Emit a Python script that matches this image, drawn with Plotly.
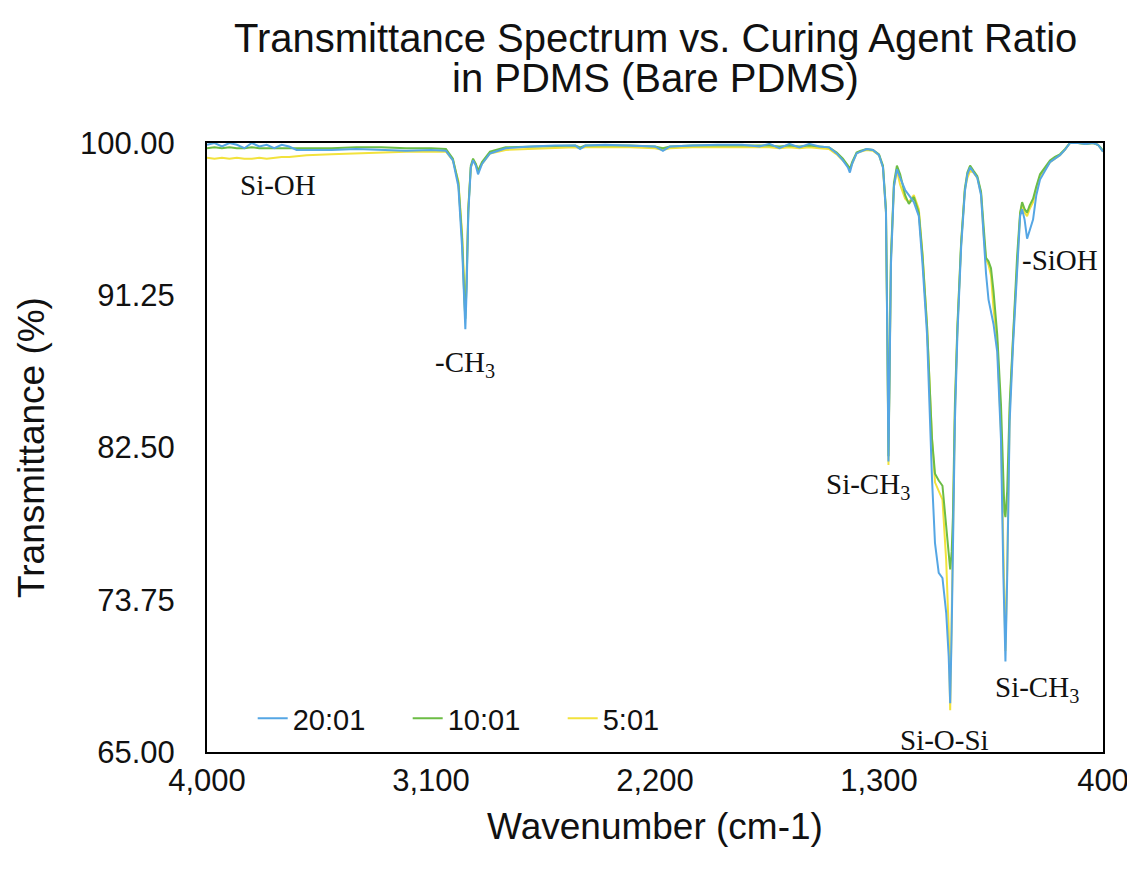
import plotly.graph_objects as go

# Wavenumber grid (cm-1), descending
wavenumber = [4000, 3970, 3940, 3910, 3880, 3850, 3820, 3790, 3760, 3730, 3700, 3670, 3640, 3600,
              3500, 3400, 3300, 3200, 3100, 3040, 3012, 2990, 2975, 2966, 2962, 2957, 2950, 2940,
              2931, 2920, 2911, 2895, 2863, 2800, 2700, 2600, 2520, 2501, 2480, 2400, 2300, 2200,
              2168, 2140, 2050, 1950, 1850, 1780, 1740, 1700, 1660, 1620, 1580, 1540, 1500, 1470,
              1445, 1425, 1417, 1408, 1390, 1376, 1350, 1324, 1300, 1284, 1272, 1266, 1262, 1258,
              1252, 1240, 1228, 1215, 1195, 1180, 1160, 1140, 1125, 1107, 1087, 1075, 1060, 1045,
              1030, 1020, 1014, 1008, 1003, 995, 985, 970, 955, 945, 934, 920, 905, 890, 880, 870,
              860, 850, 840, 825, 810, 800, 796, 792, 785, 775, 762, 745, 733, 725, 715, 705, 695,
              681, 668, 653, 633, 613, 593, 573, 553, 533, 500, 470, 440, 420, 410, 400]

t_20_01 = [99.9, 100.0, 99.8, 100.0, 99.9, 99.7, 100.0, 99.8, 99.9, 99.7, 99.9, 99.8, 99.6, 99.6,
           99.6, 99.65, 99.6, 99.55, 99.6, 99.55, 99.0, 97.5, 94.0, 90.5, 89.3, 91.5, 96.0, 98.6,
           99.0, 98.7, 98.2, 98.8, 99.4, 99.7, 99.8, 99.85, 99.85, 99.65, 99.85, 99.9, 99.85, 99.8,
           99.55, 99.8, 99.85, 99.9, 99.9, 99.8, 99.95, 99.7, 99.95, 99.75, 99.95, 99.8, 99.75, 99.4,
           99.0, 98.6, 98.3, 98.8, 99.4, 99.5, 99.65, 99.6, 99.3, 98.6, 96.0, 88.0, 81.7, 86.0,
           93.0, 97.5, 98.5, 98.0, 97.3, 97.0, 96.6, 95.8, 93.0, 89.0, 80.7, 77.0, 75.3, 75.0,
           73.0, 70.5, 67.8, 72.0, 76.0, 84.0, 89.0, 94.0, 97.2, 98.2, 98.6, 98.3, 98.0, 97.0, 94.5, 92.5,
           91.0, 90.2, 89.6, 88.0, 83.0, 75.0, 71.5, 70.2, 75.0, 84.0, 88.2, 93.0, 95.8, 96.2, 95.6, 94.5, 95.0,
           95.6, 97.0, 97.9, 98.4, 98.9, 99.1, 99.3, 99.6, 100.0, 100.0, 99.95, 100.0, 99.9, 99.7, 99.5]

t_10_01 = [99.7, 99.75, 99.7, 99.75, 99.7, 99.7, 99.75, 99.7, 99.7, 99.7, 99.7, 99.7, 99.7, 99.7,
           99.7, 99.75, 99.75, 99.7, 99.7, 99.65, 99.1, 97.7, 94.5, 91.0, 89.9, 92.0, 96.2, 98.7,
           99.1, 98.8, 98.4, 98.9, 99.5, 99.75, 99.8, 99.85, 99.85, 99.75, 99.85, 99.85, 99.85, 99.8,
           99.7, 99.8, 99.85, 99.85, 99.85, 99.85, 99.85, 99.8, 99.85, 99.8, 99.85, 99.8, 99.75, 99.45,
           99.1, 98.7, 98.5, 98.9, 99.45, 99.55, 99.65, 99.6, 99.35, 98.7, 96.2, 88.5, 82.0, 86.5,
           93.5, 97.7, 98.7, 98.2, 97.0, 96.5, 96.9, 96.0, 93.5, 89.5, 83.0, 81.0, 80.6, 80.3,
           78.0, 76.5, 75.5, 76.5, 78.5, 85.0, 89.5, 94.3, 97.4, 98.3, 98.7, 98.4, 98.1, 97.2, 95.0, 93.4,
           93.2, 92.8, 91.5, 89.0, 85.0, 80.0, 78.8, 78.5, 80.0, 85.0, 89.0, 93.5, 96.0, 96.6, 96.2, 96.0, 96.4,
           96.8, 97.5, 98.2, 98.6, 99.0, 99.2, 99.35, 99.65, 100.0, 100.0, 99.95, 100.0, 99.9, 99.75, 99.55]

t_5_01 = [99.15, 99.1, 99.15, 99.1, 99.15, 99.1, 99.1, 99.15, 99.1, 99.15, 99.2, 99.2, 99.25, 99.3,
          99.35, 99.4, 99.45, 99.5, 99.5, 99.5, 99.0, 97.8, 94.8, 91.3, 90.3, 92.3, 96.3, 98.6,
          99.0, 98.8, 98.4, 98.8, 99.4, 99.6, 99.65, 99.7, 99.75, 99.7, 99.75, 99.75, 99.75, 99.7,
          99.6, 99.7, 99.75, 99.75, 99.75, 99.75, 99.75, 99.7, 99.75, 99.7, 99.75, 99.7, 99.65, 99.35,
          99.0, 98.7, 98.5, 98.8, 99.4, 99.5, 99.6, 99.55, 99.3, 98.6, 96.0, 88.0, 81.5, 86.2,
          93.3, 97.5, 98.4, 97.6, 96.8, 96.6, 97.0, 96.2, 93.6, 89.5, 83.0, 80.5, 80.0, 79.5,
          76.0, 72.0, 67.4, 72.5, 76.5, 84.5, 89.3, 94.2, 97.3, 98.0, 98.4, 98.3, 98.0, 97.1, 94.8, 93.3,
          93.0, 92.4, 90.5, 88.5, 83.5, 75.5, 72.0, 70.8, 75.5, 84.5, 88.6, 93.3, 95.9, 96.5, 96.0, 95.8, 96.2,
          96.6, 97.4, 98.1, 98.5, 98.9, 99.1, 99.3, 99.6, 100.0, 100.0, 99.95, 100.0, 99.9, 99.7, 99.5]

series_names = ["20:01", "10:01", "5:01"]
series_values = [t_20_01, t_10_01, t_5_01]
series_colors = ["#55A6E4", "#6CBD45", "#F2E23C"]

x_ticks = [4000, 3100, 2200, 1300, 400]
y_ticks = [65.00, 73.75, 82.50, 91.25, 100.00]

title_lines = ["Transmittance Spectrum vs. Curing Agent Ratio", "in PDMS (Bare PDMS)"]

# Peak labels: (text, wavenumber, transmittance)
peak_labels = [
    ("Si-OH", 3715, 97.6),
    ("-CH<sub>3</sub>", 2963, 87.3),
    ("Si-CH<sub>3</sub>", 1344, 80.3),
    ("Si-O-Si", 1035, 65.7),
    ("Si-CH<sub>3</sub>", 665, 68.6),
    ("-SiOH", 573, 93.3),
]

fig = go.Figure()
# draw yellow first, blue last (on top); legend order kept by legendrank
for i in [2, 1, 0]:
    fig.add_trace(go.Scatter(
        x=wavenumber, y=series_values[i], mode="lines", name=series_names[i],
        line=dict(color=series_colors[i], width=2), legendrank=i + 1,
    ))

for text, wx, ty in peak_labels:
    fig.add_annotation(x=wx, y=ty, text=text, showarrow=False,
                       font=dict(family="Liberation Serif, Times New Roman, serif", size=29, color="#111111"))

# two-line chart title
fig.add_annotation(x=0.5, xref="paper", y=1.172, yref="paper", yanchor="middle",
                   text=title_lines[0], showarrow=False, font=dict(size=40, color="#111111"))
fig.add_annotation(x=0.5, xref="paper", y=1.107, yref="paper", yanchor="middle",
                   text=title_lines[1], showarrow=False, font=dict(size=40, color="#111111"))

fig.update_layout(
    width=1127, height=860,
    paper_bgcolor="white", plot_bgcolor="white",
    margin=dict(l=199, r=32, t=135, b=116, autoexpand=False),
    font=dict(family="Liberation Sans, Arial, sans-serif", color="#111111"),
    showlegend=True,
    legend=dict(orientation="h", x=0.051, y=0.055, xanchor="left", yanchor="middle",
                bgcolor="rgba(0,0,0,0)", font=dict(size=29), entrywidth=110),
)
fig.update_xaxes(
    range=[4000, 400], tickvals=x_ticks, tickformat=",d",
    showline=True, linecolor="black", linewidth=2, mirror=True,
    showgrid=False, zeroline=False, automargin=False,
    ticks="outside", ticklen=0, tickcolor="rgba(0,0,0,0)",
    ticklabeloverflow="allow",
    tickfont=dict(size=31),
    title=dict(text="Wavenumber (cm-1)", font=dict(size=37), standoff=16),
)
fig.update_yaxes(
    range=[65, 100], tickvals=y_ticks, tickformat=".2f",
    showline=True, linecolor="black", linewidth=2, mirror=True,
    showgrid=False, zeroline=False, automargin=False,
    ticks="outside", ticklen=24, tickcolor="rgba(0,0,0,0)",
    tickfont=dict(size=31),
    title=dict(text="Transmittance (%)", font=dict(size=37), standoff=24),
)

fig.write_html("out.html")
